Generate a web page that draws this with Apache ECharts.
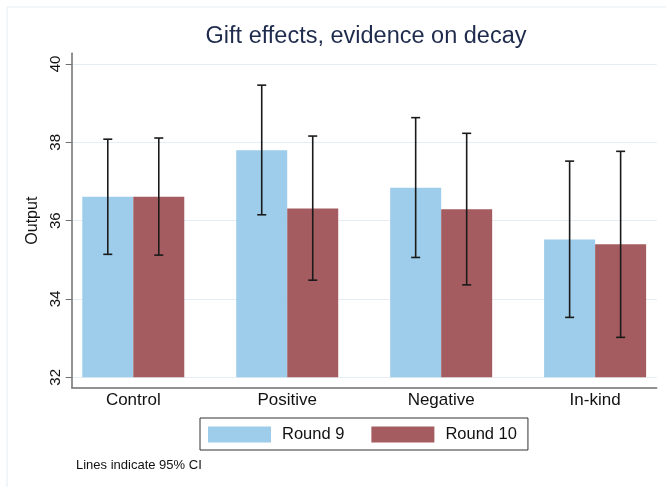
<!DOCTYPE html>
<html>
<head>
<meta charset="utf-8">
<title>Gift effects, evidence on decay</title>
<script src="https://cdn.jsdelivr.net/npm/echarts@6/dist/echarts.min.js"></script>
<style>
  html, body { margin: 0; padding: 0; background: #fff; }
  #chart { width: 666px; height: 487px; }
</style>
</head>
<body>
<div id="chart"></div>
<script>
const categories = ['Control', 'Positive', 'Negative', 'In-kind']
const seriesNames = ['Round 9', 'Round 10']

// mean output per treatment
const round9 = [36.61, 37.80, 36.84, 35.52]
const round10 = [36.61, 36.31, 36.29, 35.40]

// 95% CI bounds
const round9Low = [35.14, 36.15, 35.06, 33.53]
const round9High = [38.08, 39.46, 38.63, 37.52]
const round10Low = [35.12, 34.48, 34.36, 33.02]
const round10High = [38.11, 38.16, 38.23, 37.77]

const yTicks = [32, 34, 36, 38, 40]
const catPositions = [0, 1, 2, 3]

const FONT = "'Liberation Sans', Arial, Helvetica, sans-serif"
const COLORS = ['#9dcdea', '#a55c60']
const BAR_W = 51
const AXIS_GRAY = '#6e6e6e'

// bars sit on a value x axis so the groups can be spaced like the original
const barData = (vals) => vals.map((v, i) => [catPositions[i], v])
const ciData = (lo, hi) => lo.map((v, i) => [catPositions[i], v, hi[i]])

const errorBars = (name, lo, hi, side) => ({
  name: name,
  type: 'custom',
  xAxisIndex: 0,
  yAxisIndex: 0,
  z: 10,
  silent: true,
  data: ciData(lo, hi),
  renderItem: (params, api) => {
    const top = api.coord([api.value(0), api.value(2)])
    const bottom = api.coord([api.value(0), api.value(1)])
    const x = top[0] + side * BAR_W / 2
    const cap = 4.5
    const style = { stroke: '#1a1a1a', lineWidth: 1.6 }
    return {
      type: 'group',
      children: [
        { type: 'line', shape: { x1: x, y1: top[1], x2: x, y2: bottom[1] }, style },
        { type: 'line', shape: { x1: x - cap, y1: top[1], x2: x + cap, y2: top[1] }, style },
        { type: 'line', shape: { x1: x - cap, y1: bottom[1], x2: x + cap, y2: bottom[1] }, style },
      ],
    }
  },
})

const chart = echarts.init(document.getElementById('chart'), null, { renderer: 'canvas' })

chart.setOption({
  animation: false,
  backgroundColor: '#ffffff',
  textStyle: { fontFamily: FONT },
  graphic: [
    {
      type: 'rect',
      silent: true,
      shape: { x: 7, y: 7, width: 700, height: 600 },
      style: { fill: 'none', stroke: '#e7edf1', lineWidth: 1 },
    },
  ],
  title: [
    {
      text: 'Gift effects, evidence on decay',
      left: 366,
      top: 25,
      textAlign: 'center',
      padding: 0,
      textStyle: { fontFamily: FONT, fontSize: 23.5, fontWeight: 'normal', color: '#1e2b4d' },
    },
    {
      text: 'Lines indicate 95% CI',
      left: 76,
      top: 459,
      padding: 0,
      textStyle: { fontFamily: FONT, fontSize: 13, fontWeight: 'normal', color: '#111' },
    },
  ],
  legend: {
    data: seriesNames,
    left: 200,
    top: 418,
    orient: 'horizontal',
    icon: 'rect',
    itemWidth: 63,
    itemHeight: 16,
    itemGap: 27,
    padding: [8, 11, 7, 8],
    borderColor: '#333',
    borderWidth: 1,
    selectedMode: false,
    textStyle: { fontFamily: FONT, fontSize: 16.5, color: '#111', padding: [0, 0, 0, 6] },
  },
  grid: [
    // data area: 32..40
    { left: 71.7, right: 9.3, top: 64, bottom: 109.7 },
    // frame: axis lines run a little past the data range
    { left: 71.7, right: 9.3, top: 53.3, bottom: 99.7 },
  ],
  xAxis: [
    {
      type: 'value',
      gridIndex: 0,
      min: -0.4,
      max: 3.4,
      show: false,
    },
    {
      type: 'value',
      gridIndex: 1,
      min: -0.4,
      max: 3.4,
      axisLine: { show: true, onZero: false, lineStyle: { color: AXIS_GRAY, width: 1.5 } },
      axisTick: { show: false },
      splitLine: { show: false },
      axisLabel: {
        customValues: catPositions,
        formatter: (v) => categories[Math.round(v)] || '',
        margin: 5,
        fontFamily: FONT,
        fontSize: 17,
        color: '#111',
      },
    },
  ],
  yAxis: [
    {
      type: 'value',
      gridIndex: 0,
      min: yTicks[0],
      max: yTicks[yTicks.length - 1],
      interval: 2,
      name: 'Output',
      nameLocation: 'middle',
      nameGap: 24,
      nameTextStyle: { fontFamily: FONT, fontSize: 16, color: '#111' },
      axisLine: { show: false, onZero: false },
      axisTick: { show: true, length: 6, lineStyle: { color: AXIS_GRAY, width: 1 } },
      axisLabel: { rotate: 90, margin: 8, fontFamily: FONT, fontSize: 15, color: '#111' },
      splitLine: { show: true, lineStyle: { color: '#e6edf2', width: 1.2 } },
    },
    {
      type: 'value',
      gridIndex: 1,
      min: 31.745,
      max: 40.274,
      axisLine: { show: true, onZero: false, lineStyle: { color: AXIS_GRAY, width: 1.5 } },
      axisTick: { show: false },
      axisLabel: { show: false },
      splitLine: { show: false },
    },
  ],
  series: [
    {
      name: seriesNames[0],
      type: 'bar',
      xAxisIndex: 0,
      yAxisIndex: 0,
      barWidth: BAR_W,
      barGap: '0%',
      itemStyle: { color: COLORS[0] },
      data: barData(round9),
    },
    {
      name: seriesNames[1],
      type: 'bar',
      xAxisIndex: 0,
      yAxisIndex: 0,
      barWidth: BAR_W,
      barGap: '0%',
      itemStyle: { color: COLORS[1] },
      data: barData(round10),
    },
    errorBars('ci9', round9Low, round9High, -1),
    errorBars('ci10', round10Low, round10High, 1),
  ],
})
</script>
</body>
</html>
